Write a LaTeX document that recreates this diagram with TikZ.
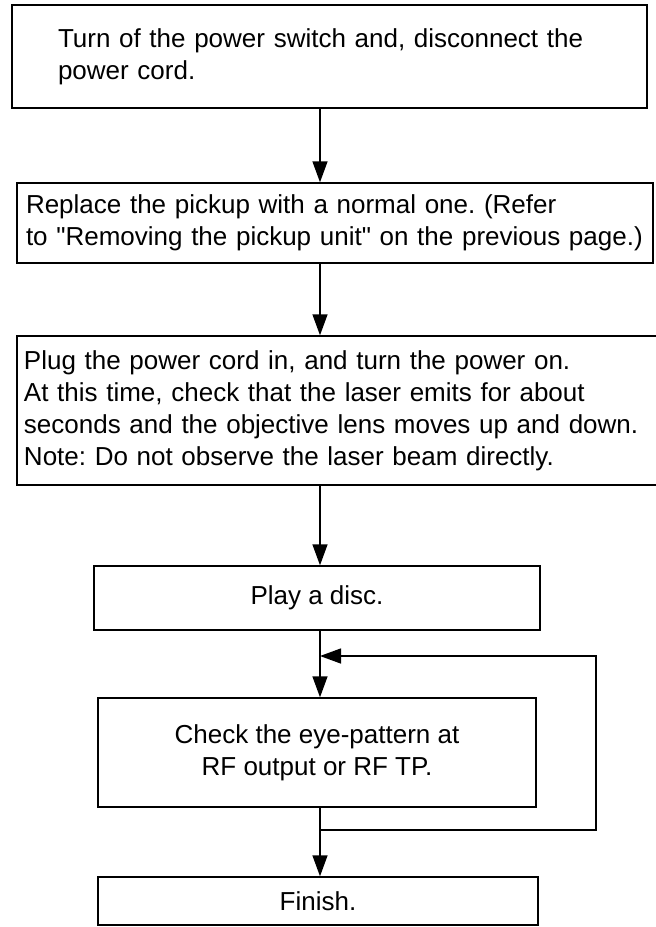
\documentclass[tikz,border=0pt]{standalone}
\usepackage{fontspec}
\setmainfont{Liberation Sans}
\usepackage{tikz}
\usetikzlibrary{positioning}
\usetikzlibrary{shapes.geometric, arrows.meta}
\frenchspacing

\begin{document}
\begin{tikzpicture}[x=0.5pt, y=-0.5pt, line width=0.7pt,
        >={Triangle[length=10.5pt, width=7.5pt]},
        stepbox/.style={rectangle, draw, line width=0.7pt, inner ysep=0pt,
            font=\fontsize{13pt}{16pt}\selectfont}]
        \useasboundingbox (0,0) rectangle (656,927);
        \coordinate (axis) at (320, 0);
        \node
        [
            stepbox,
            align=left,
            minimum width=317.5pt,
            minimum height=51.5pt,
            inner xsep=23pt,
            text width=271.5pt
        ] (off) at (329.5, 56.5) {Turn of the power switch and, disconnect the\\power cord.};
        \node
        [
            stepbox,
            align=left,
            minimum width=318pt,
            minimum height=40pt,
            inner xsep=4.5pt,
            text width=309pt
        ] (replace) at (335, 223) {Replace the pickup with a normal one. (Refer\\to \textquotedbl Removing the pickup unit\textquotedbl{} on the previous page.)};
        \node
        [
            stepbox,
            align=left,
            minimum width=322.5pt,
            minimum height=74.5pt,
            inner xsep=3.5pt,
            text width=315.5pt
        ] (plug) at (339.5, 410.5) {Plug the power cord in, and turn the power on.\\At this time, check that the laser emits for about\\seconds and the objective lens moves up and down.\\Note: Do not observe the laser beam directly.};
        \node
        [
            stepbox,
            minimum width=223pt,
            minimum height=32pt
        ] (play) at (317, 598) {Play a disc.};
        \node
        [
            stepbox,
            align=center,
            minimum width=219pt,
            minimum height=54.5pt
        ] (check) at (317, 752.5) {Check the eye-pattern at\\RF output or RF TP.};
        \node
        [
            stepbox,
            minimum width=220pt,
            minimum height=24pt
        ] (finish) at (318, 901) {Finish.};
        \draw[->] (off.south -| axis) -- (replace.north -| axis);
        \draw[->] (replace.south -| axis) -- (plug.north -| axis);
        \draw[->] (plug.south -| axis) -- (play.north -| axis);
        \draw[->] (play.south -| axis) -- (check.north -| axis);
        \draw[->] (check.south -| axis) -- (finish.north -| axis);
        % loop back to the check
        \coordinate (split) at (320, 830);
        \coordinate (loopcorner) at (596, 830);
        \coordinate (join) at (320, 656);
        \draw[->] (split) -- (loopcorner) |- (join);
    \end{tikzpicture}
\end{document}
